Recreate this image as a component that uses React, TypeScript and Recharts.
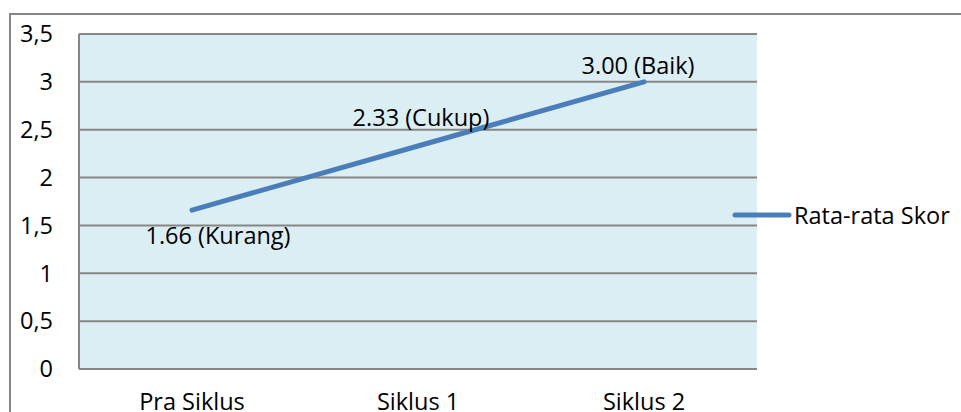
import { LineChart, Line, XAxis, YAxis, CartesianGrid, Legend, LabelList } from 'recharts';

const CATEGORIES = ['Pra Siklus', 'Siklus 1', 'Siklus 2'];
const SCORES = [1.66, 2.33, 3.0];
const GRADES = ['Kurang', 'Cukup', 'Baik'];
const Y_TICKS = [0, 0.5, 1, 1.5, 2, 2.5, 3, 3.5];

const data = CATEGORIES.map((name, i) => ({ name, score: SCORES[i], grade: GRADES[i] }));

const LINE_COLOR = '#4a7ebb';
const GRID_COLOR = '#868686';
const FONT = '"Open Sans", sans-serif';
const FONT_SIZE = 23.5;

// where each data label sits relative to its point (text centre)
const LABEL_SHIFT = [
  { dx: 26, dy: 25 },
  { dx: 3, dy: -29 },
  { dx: -6, dy: -17 },
];

const PointLabel = (props: any) => {
  const { x, y, index, value } = props;
  const shift = LABEL_SHIFT[index] || { dx: 0, dy: -20 };
  return (
    <text
      x={x + shift.dx}
      y={y + shift.dy}
      textAnchor="middle"
      dominantBaseline="central"
      fontSize={FONT_SIZE}
      fontFamily={FONT}
      fill="#000"
    >
      {`${Number(value).toFixed(2)} (${GRADES[index]})`}
    </text>
  );
};

const LegendContent = () => (
  <div style={{ display: 'flex', alignItems: 'center', fontFamily: FONT, fontSize: FONT_SIZE, color: '#000' }}>
    <svg width={60} height={10}>
      <line x1={3} y1={5} x2={57} y2={5} stroke={LINE_COLOR} strokeWidth={5} strokeLinecap="round" />
    </svg>
    <span style={{ marginLeft: 2, whiteSpace: 'nowrap' }}>Rata-rata Skor</span>
  </div>
);

export default function App() {
  return (
    <div style={{ position: 'absolute', left: 0, top: 0, width: 961, height: 412, overflow: 'hidden', background: '#fff', fontFamily: FONT }}>
      <div style={{ position: 'absolute', left: 9, top: 13, width: 1000, height: 500, border: `2px solid ${GRID_COLOR}` }} />
      <div style={{ position: 'absolute', left: 0, top: 0 }}>
        <LineChart width={961} height={412} data={data} margin={{ top: 34, right: 204, left: 19, bottom: 0 }}>
          <CartesianGrid vertical={false} fill="#dbeef4" stroke={GRID_COLOR} strokeWidth={2} />
          <XAxis
            dataKey="name"
            height={43}
            padding={{ left: 113, right: 113 }}
            axisLine={{ stroke: GRID_COLOR, strokeWidth: 2 }}
            tickLine={false}
            tickSize={0}
            tickMargin={24}
            tick={{ fontSize: FONT_SIZE, fill: '#000', fontFamily: FONT }}
          />
          <YAxis
            width={60}
            domain={[0, 3.5]}
            ticks={Y_TICKS}
            interval={0}
            axisLine={{ stroke: GRID_COLOR, strokeWidth: 2 }}
            tickLine={false}
            tickSize={0}
            tickMargin={26}
            tickFormatter={(v: number) => String(v).replace('.', ',')}
            tick={{ fontSize: FONT_SIZE, fill: '#000', fontFamily: FONT }}
          />
          <Legend
            layout="horizontal"
            verticalAlign="middle"
            align="center"
            content={<LegendContent />}
            wrapperStyle={{ left: 732, top: 199, width: 'auto', height: 'auto' }}
          />
          <Line
            type="linear"
            dataKey="score"
            name="Rata-rata Skor"
            stroke={LINE_COLOR}
            strokeWidth={5}
            strokeLinecap="round"
            dot={false}
            activeDot={false}
            isAnimationActive={false}
          >
            <LabelList dataKey="score" content={<PointLabel />} />
          </Line>
        </LineChart>
      </div>
    </div>
  );
}
